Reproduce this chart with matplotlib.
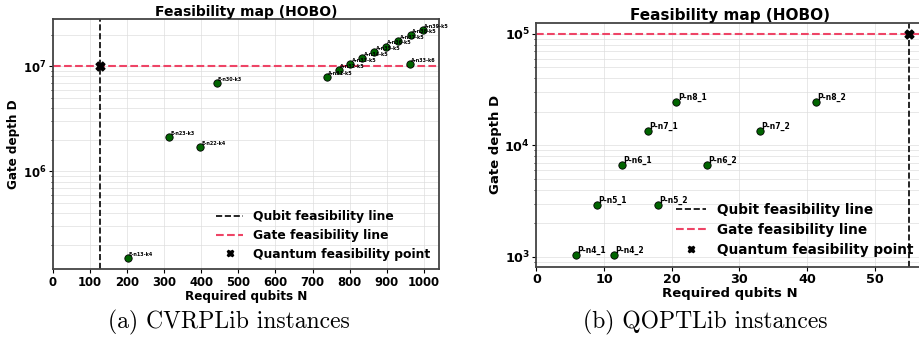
import matplotlib
matplotlib.use("Agg")
import matplotlib.pyplot as plt
from matplotlib.lines import Line2D

# CVRPLib instances (qubits, gate depth)
cvrp_names = ['E-n13-k4', 'E-n23-k3', 'E-n22-k4', 'E-n30-k3',
              'A-n31-k5', 'A-n32-k5', 'A-n33-k5', 'A-n34-k5', 'A-n35-k5',
              'A-n36-k5', 'A-n37-k5', 'A-n38-k5', 'A-n39-k5', 'A-n33-k6']
cvrp_qubits = [201, 313, 396, 441, 738, 770, 802, 834, 866, 898, 931, 965, 998, 962]
cvrp_depth = [1.5e5, 2.11e6, 1.72e6, 6.9e6, 7.97e6, 9.16e6, 1.05e7, 1.2e7, 1.37e7,
              1.54e7, 1.73e7, 1.97e7, 2.2e7, 1.06e7]
cvrp_xticks = list(range(0, 1001, 100))

# QOPTLib instances
qopt_names = ['P-n4_1', 'P-n4_2', 'P-n5_1', 'P-n5_2', 'P-n6_1', 'P-n6_2',
              'P-n7_1', 'P-n7_2', 'P-n8_1', 'P-n8_2']
qopt_qubits = [5.8, 11.5, 9.0, 18.0, 12.6, 25.2, 16.5, 33.0, 20.7, 41.3]
qopt_depth = [1030, 1030, 2900, 2900, 6700, 6700, 13500, 13500, 24700, 24700]
qopt_xticks = list(range(0, 51, 10))

# feasibility limits (qubits, depth)
cvrp_limit = (127, 1e7)
qopt_limit = (55, 1e5)

red = '#ee4466'

fig = plt.figure(figsize=(9.2, 3.5), dpi=100)
ax1 = fig.add_axes([0.0576, 0.2306, 0.4196, 0.7144])
ax2 = fig.add_axes([0.583, 0.238, 0.420, 0.697])


def draw(ax, names, xs, ys, limit, label_size, xlim, ylim, xticks, k):
    ax.set_yscale('log')
    ax.grid(True, which='both', color='#dddddd', linewidth=0.6, alpha=0.8)
    ax.scatter(xs, ys, s=28, color='darkgreen', edgecolor='black', linewidth=0.6, zorder=3)
    for n, x, y in zip(names, xs, ys):
        ax.annotate(n, (x, y), xytext=(1, 1.5), textcoords='offset points',
                    fontsize=label_size, fontweight='bold', zorder=4)
    ax.axvline(limit[0], color='black', linestyle='--', linewidth=1.2)
    ax.axhline(limit[1], color=red, linestyle='--', linewidth=1.5)
    ax.scatter([limit[0]], [limit[1]], marker='X', s=40, color='black', zorder=5)
    ax.set_xticks(xticks)
    ax.set_xlim(*xlim)
    ax.set_ylim(*ylim)
    ax.set_title('Feasibility map (HOBO)', fontsize=11 * k, fontweight='bold', pad=2)
    ax.set_xlabel('Required qubits N', fontsize=9.5 * k, fontweight='bold', labelpad=1)
    ax.set_ylabel('Gate depth D', fontsize=9.5 * k, fontweight='bold', labelpad=2)
    ax.tick_params(which='major', labelsize=9.2 * k, length=3, pad=1.5)
    ax.tick_params(which='minor', length=1.5)
    for lab in ax.get_xticklabels() + ax.get_yticklabels():
        lab.set_fontweight('bold')
    for sp in ax.spines.values():
        sp.set_color('#444444')
        sp.set_linewidth(1.3)
    handles = [Line2D([], [], color='black', linestyle='--', linewidth=1.2),
               Line2D([], [], color=red, linestyle='--', linewidth=1.5),
               Line2D([], [], color='black', marker='X', linestyle='none', markersize=5)]
    ax.legend(handles, ['Qubit feasibility line', 'Gate feasibility line',
                        'Quantum feasibility point'],
              loc='lower right', frameon=False, prop={'weight': 'bold', 'size': 9.8 * k},
              handlelength=2.2, labelspacing=0.45, borderaxespad=0.3)


draw(ax1, cvrp_names, cvrp_qubits, cvrp_depth, cvrp_limit, 3.5, (0, 1041), (1.17e5, 2.8e7),
     cvrp_xticks, 0.91)
draw(ax2, qopt_names, qopt_qubits, qopt_depth, qopt_limit, 5.5, (0, 57.1), (813, 1.26e5),
     qopt_xticks, 1.0)

fig.text(0.2487, 0.08, '(a) CVRPLib instances', family='cmr10', fontsize=17,
         ha='center', va='center')
fig.text(0.767, 0.08, '(b) QOPTLib instances', family='cmr10', fontsize=17,
         ha='center', va='center')

fig.savefig('out.png', dpi=100)
